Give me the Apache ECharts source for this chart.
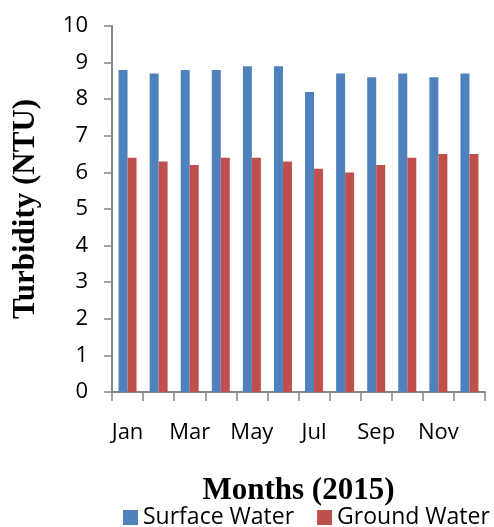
<!DOCTYPE html>
<html>
<head>
<meta charset="utf-8">
<script src="https://cdn.jsdelivr.net/npm/echarts@6/dist/echarts.min.js"></script>
<style>
  html, body { margin: 0; padding: 0; background: #fff; }
  #ec { width: 494px; height: 527px; }
</style>
</head>
<body>
<div id="ec"></div>
<script>
  const months = ['Jan', 'Feb', 'Mar', 'Apr', 'May', 'Jun', 'Jul', 'Aug', 'Sep', 'Oct', 'Nov', 'Dec']
  const surfaceWater = [8.8, 8.7, 8.8, 8.8, 8.9, 8.9, 8.2, 8.7, 8.6, 8.7, 8.6, 8.7]
  const groundWater = [6.4, 6.3, 6.2, 6.4, 6.4, 6.3, 6.1, 6.0, 6.2, 6.4, 6.5, 6.5]

  const ec = echarts.init(document.getElementById('ec'))
  ec.setOption({
    animation: false,
    grid: {
      left: 112,
      right: 9,
      top: 26,
      bottom: 135
    },
    legend: {
      top: 506,
      left: 123,
      width: 371,
      padding: 0,
      itemWidth: 15,
      itemHeight: 15,
      itemGap: 23,
      icon: 'rect',
      textStyle: {
        fontFamily: 'Open Sans',
        fontSize: 23,
        color: '#000'
      },
      data: ['Surface Water', 'Ground Water']
    },
    xAxis: {
      type: 'category',
      data: months,
      name: 'Months (2015)',
      nameLocation: 'middle',
      nameGap: 83,
      nameTextStyle: {
        fontFamily: 'Liberation Serif',
        fontWeight: 'bold',
        fontSize: 31,
        color: '#000'
      },
      axisLine: { lineStyle: { color: '#868686', width: 2 } },
      axisTick: { show: true, interval: 0, length: 9, lineStyle: { color: '#868686', width: 1.5 } },
      axisLabel: {
        interval: 1,
        margin: 30,
        fontFamily: 'Open Sans',
        fontSize: 22,
        color: '#000'
      }
    },
    yAxis: {
      type: 'value',
      min: 0,
      max: 10,
      interval: 1,
      name: 'Turbidity (NTU)',
      nameLocation: 'middle',
      nameGap: 71,
      nameTextStyle: {
        fontFamily: 'Liberation Serif',
        fontWeight: 'bold',
        fontSize: 31,
        color: '#000'
      },
      axisLine: { show: true, lineStyle: { color: '#868686', width: 2 } },
      axisTick: { show: true, length: 8, lineStyle: { color: '#868686', width: 1.5 } },
      splitLine: { show: false },
      axisLabel: {
        margin: 24,
        fontFamily: 'Open Sans',
        fontSize: 22,
        color: '#000'
      }
    },
    series: [
      {
        name: 'Surface Water',
        type: 'bar',
        data: surfaceWater,
        barWidth: 9,
        barGap: '0%',
        itemStyle: { color: '#4F81BD' }
      },
      {
        name: 'Ground Water',
        type: 'bar',
        data: groundWater,
        barWidth: 9,
        itemStyle: { color: '#C0504D' }
      }
    ]
  })
</script>
</body>
</html>
